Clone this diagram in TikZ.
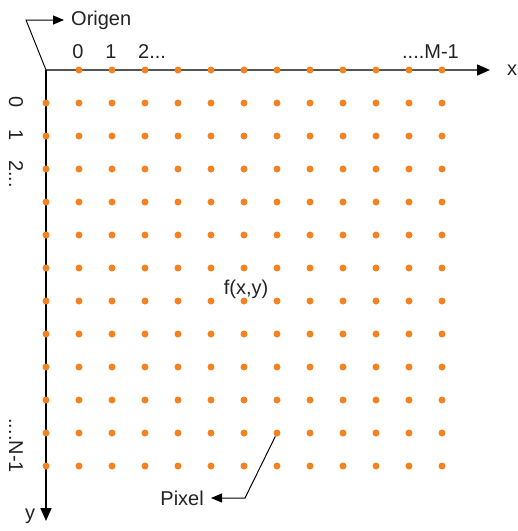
\documentclass[tikz,border=0pt]{standalone}
\usepackage{fontspec}
\setmainfont{Liberation Sans}
\usetikzlibrary{arrows.meta,positioning}
\definecolor{dotorange}{RGB}{245,130,32}
\definecolor{axisgray}{RGB}{85,85,85}
\definecolor{textgray}{RGB}{35,35,35}

\begin{document}
\begin{tikzpicture}[x=1pt,y=-1pt,
      dot/.style={circle,fill=dotorange,inner sep=0pt,minimum size=7pt},
      lbl/.style={font=\fontsize{20}{22}\selectfont,text=textgray,inner sep=1pt},
      ax/.style={line width=1.6pt,-{Triangle[length=13pt,width=11pt,color=black]}},
      pt/.style={line width=1pt,-{Triangle[length=11pt,width=9pt]}}]
  \useasboundingbox (0,0) rectangle (518,531);
  \coordinate (O) at (46,70);
  \coordinate (xe) at (490,70);
  \coordinate (ye) at (46,521);
  \draw[ax,color=axisgray] (O) -- (xe);
  \draw[ax] (O) -- (ye);
  \foreach \i in {1,...,12}
    \node[dot] (d-\i-0) at (46+33*\i,70) {};
  \foreach \j in {1,...,12}
    \foreach \i in {0,...,12}
      \node[dot] (d-\i-\j) at (46+33*\i,70+33*\j) {};
  \node[lbl] (x0) at (78,52) {0};
  \node[lbl] (x1) at (111,52) {1};
  \node[lbl,anchor=west] (x2) at (137,52) {2...};
  \node[lbl,anchor=east] (xM) at (460,52) {....M-1};
  \node[lbl,rotate=-90] (y0) at (16,102) {0};
  \node[lbl,rotate=-90] (y1) at (16,135) {1};
  \node[lbl,rotate=-90,anchor=west] (y2) at (16,159) {2...};
  \node[lbl,rotate=-90,anchor=east] (yN) at (16,474) {....N-1};
  \node[lbl] (xl) at (512,70) {x};
  \node[lbl] (yl) at (30,516) {y};
  \node[lbl] (f) at (246,289) {f(x,y)};
  \node[lbl,anchor=west] (org) at (70,20) {Origen};
  \coordinate (ok) at (26,20);
  \draw[pt,shorten >=6pt] (O) -- (ok) -- (org);
  \node[lbl,anchor=east] (px) at (205,498) {Pixel};
  \coordinate (pk) at (245,498);
  \draw[pt,shorten >=6pt] (d-7-11) -- (pk) -- (px);
\end{tikzpicture}
\end{document}
